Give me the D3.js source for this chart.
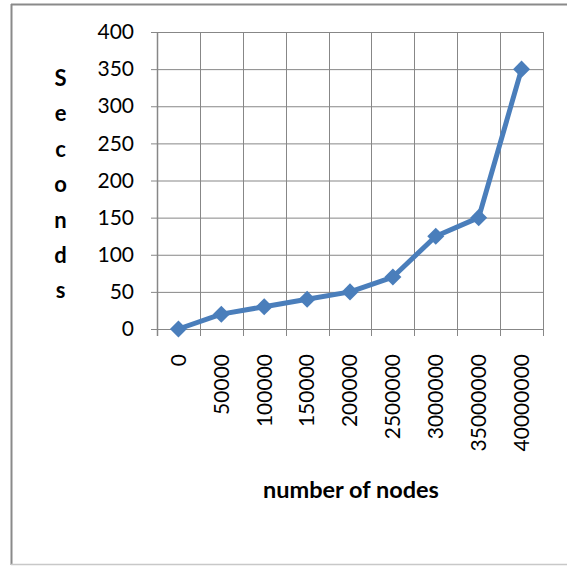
<!DOCTYPE html>
<html>
<head>
<meta charset="utf-8">
<script src="https://cdn.jsdelivr.net/npm/d3@7/dist/d3.min.js"></script>
<style>
  html, body { margin: 0; padding: 0; background: #fff; }
  svg { display: block; }
</style>
</head>
<body>
<script>
// Run time by graph size
const nodeCounts = ["0", "50000", "100000", "150000", "200000", "2500000", "3000000", "35000000", "40000000"];
const seconds = [0, 20, 30, 40, 50, 70, 125, 150, 350];
const yTicks = [0, 50, 100, 150, 200, 250, 300, 350, 400];
const yTitle = "Seconds";
const xTitle = "number of nodes";

const W = 567, H = 566;
const plot = { left: 157, right: 543, top: 32, bottom: 329 };
const font = "Lato, 'Open Sans', sans-serif";
const gridColor = "#878787";
const lineColor = "#4a7ebb";

const svg = d3.select("body").append("svg")
  .attr("width", W).attr("height", H);

// chart frame
svg.append("line").attr("x1", 11).attr("x2", W).attr("y1", 4.5).attr("y2", 4.5)
  .attr("stroke", "#8a8a8a").attr("stroke-width", 2);
svg.append("line").attr("x1", 11.5).attr("x2", 11.5).attr("y1", 4).attr("y2", 565)
  .attr("stroke", "#8a8a8a").attr("stroke-width", 2);
svg.append("line").attr("x1", 11).attr("x2", W).attr("y1", 564.5).attr("y2", 564.5)
  .attr("stroke", "#c8c8c8").attr("stroke-width", 1.5);

const x = d3.scaleBand().domain(nodeCounts).range([plot.left, plot.right]).padding(0);
const y = d3.scaleLinear().domain([0, 400]).range([plot.bottom, plot.top]);

// horizontal gridlines + left ticks
const yAxis = d3.axisLeft(y).tickValues(yTicks).tickSize(6).tickPadding(17);
const gy = svg.append("g").attr("transform", `translate(${plot.left},0)`).call(yAxis);
gy.select(".domain").remove();
gy.selectAll(".tick line").attr("stroke", gridColor);
gy.selectAll(".tick").append("line")
  .attr("x1", 0).attr("x2", plot.right - plot.left)
  .attr("stroke", gridColor);
gy.selectAll(".tick text")
  .attr("font-family", font).attr("font-size", 21).attr("fill", "#000");

// vertical gridlines at category boundaries + bottom ticks
const bounds = nodeCounts.map(d => x(d)).concat([x.range()[1]]);
const gx = svg.append("g");
gx.selectAll("line.v").data(bounds).join("line")
  .attr("class", "v")
  .attr("x1", d => Math.round(d) + 0.5).attr("x2", d => Math.round(d) + 0.5)
  .attr("y1", plot.top).attr("y2", plot.bottom + 7)
  .attr("stroke", gridColor);
// axis lines
svg.append("line").attr("x1", plot.left - 6).attr("x2", plot.right)
  .attr("y1", y(0) + 0.5).attr("y2", y(0) + 0.5).attr("stroke", gridColor);
svg.append("line").attr("x1", plot.left + 0.5).attr("x2", plot.left + 0.5)
  .attr("y1", plot.top).attr("y2", plot.bottom + 7).attr("stroke", gridColor).attr("stroke-width", 1.5);

// category labels, rotated
gx.selectAll("text.cat").data(nodeCounts).join("text")
  .attr("class", "cat")
  .attr("transform", d => `translate(${x(d) + x.bandwidth() / 2},354) rotate(-90)`)
  .attr("text-anchor", "end")
  .attr("dy", "0.35em")
  .attr("font-family", font).attr("font-size", 21).attr("fill", "#000")
  .text(d => d);

// series line
const pts = nodeCounts.map((c, i) => [x(c) + x.bandwidth() / 2, y(seconds[i])]);
svg.append("path")
  .attr("d", d3.line()(pts))
  .attr("fill", "none").attr("stroke", lineColor)
  .attr("stroke-width", 5).attr("stroke-linejoin", "round");

// diamond markers
const diamond = d3.symbol().type(d3.symbolDiamond2).size(185);
svg.selectAll("path.m").data(pts).join("path")
  .attr("class", "m")
  .attr("transform", d => `translate(${d[0]},${d[1]})`)
  .attr("d", diamond)
  .attr("fill", lineColor);

// axis titles
const yt = svg.append("text")
  .attr("font-family", font).attr("font-size", 22).attr("font-weight", "bold")
  .attr("text-anchor", "middle").attr("fill", "#000");
yt.selectAll("tspan").data(yTitle.split("")).join("tspan")
  .attr("x", 60.5)
  .attr("y", (d, i) => 86 + i * 35.4)
  .text(d => d);

svg.append("text")
  .attr("x", (plot.left + plot.right) / 2 + 1).attr("y", 498)
  .attr("text-anchor", "middle")
  .attr("font-family", font).attr("font-size", 23.5).attr("font-weight", "bold")
  .attr("fill", "#000")
  .text(xTitle);
</script>
</body>
</html>
